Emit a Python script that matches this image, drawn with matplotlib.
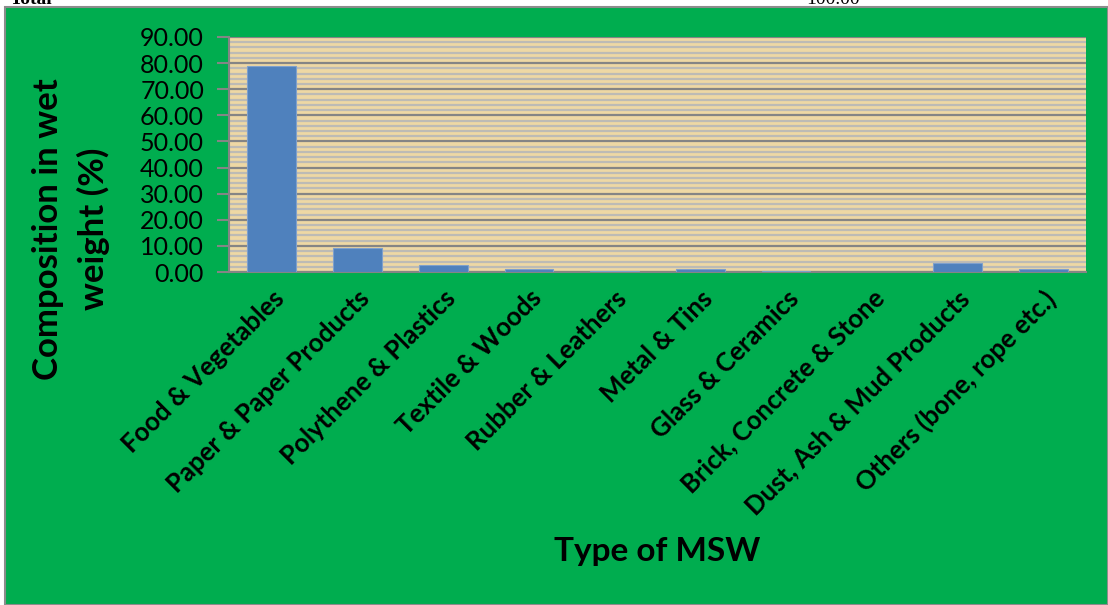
import matplotlib
matplotlib.use("Agg")
import matplotlib.pyplot as plt
from matplotlib.patches import Rectangle
from matplotlib.ticker import MultipleLocator, FormatStrFormatter

categories = ["Food & Vegetables", "Paper & Paper Products", "Polythene & Plastics",
              "Textile & Woods", "Rubber & Leathers", "Metal & Tins", "Glass & Ceramics",
              "Brick, Concrete & Stone", "Dust, Ash & Mud Products", "Others (bone, rope etc.)"]
values = [78.9, 9.2, 2.7, 1.1, 0.3, 1.0, 0.3, 0.0, 3.4, 1.0]

W, H = 1108, 605
fig = plt.figure(figsize=(W / 100, H / 100), dpi=100, facecolor="white")

# green chart area with grey border
fig.patches.append(Rectangle((5 / W, 0), 1 - 5 / W, 1 - 7 / H, transform=fig.transFigure,
                             facecolor="#00AD4F", edgecolor="#8C8C8C", linewidth=1.5, zorder=-5))
# clipped text from document above
fig.text(10 / W, 1.0, "Total", fontsize=14, family="Liberation Serif", fontweight="bold",
         va="center", ha="left")
fig.text(860 / W, 1.0, "100.00", fontsize=14, family="Liberation Serif",
         va="center", ha="right")

ax = fig.add_axes([229 / W, 1 - 272 / H, (1086 - 229) / W, (272 - 37) / H])
ax.set_zorder(2)
ax.set_facecolor("#EED8A4")
x = range(len(categories))
ax.bar(x, values, width=0.57, color="#4F81BD", edgecolor="#7FA0CC", linewidth=0.8, zorder=3)

ax.set_ylim(0, 90)
ax.set_xlim(-0.5, len(categories) - 0.5)
ax.yaxis.set_major_locator(MultipleLocator(10))
ax.yaxis.set_minor_locator(MultipleLocator(2))
ax.yaxis.set_major_formatter(FormatStrFormatter("%.2f"))
ax.grid(axis="y", which="minor", color="#BDBBB5", linewidth=1.6, zorder=1)
ax.grid(axis="y", which="major", color="#858585", linewidth=1.6, zorder=2)
ax.set_axisbelow(True)
ax.tick_params(axis="y", which="minor", length=0)
ax.tick_params(axis="y", which="major", length=9, color="#858585", width=1.5,
               labelsize=18, pad=9)
ax.tick_params(axis="x", length=0, pad=10)
ax.set_xticks(list(x))
ax.set_xticklabels(categories, rotation=45, ha="right", rotation_mode="anchor",
                   fontsize=18.5, fontweight="bold", family="Lato")
for lab in ax.get_yticklabels():
    lab.set_family("Lato")
for s in ["top", "right"]:
    ax.spines[s].set_visible(False)
ax.spines["left"].set_color("#858585")
ax.spines["left"].set_linewidth(1.5)
ax.spines["bottom"].set_color("#858585")
ax.spines["bottom"].set_linewidth(1.5)

fig.text(71 / W, 1 - 229 / H, "Composition in wet\nweight (%)", rotation=90,
         ha="center", va="center", fontsize=25, fontweight="bold", family="Lato",
         linespacing=1.5)
fig.text(657 / W, 1 - 551 / H, "Type of MSW", ha="center", va="center",
         fontsize=24, fontweight="bold", family="Lato")

fig.savefig("out.png", dpi=100)
